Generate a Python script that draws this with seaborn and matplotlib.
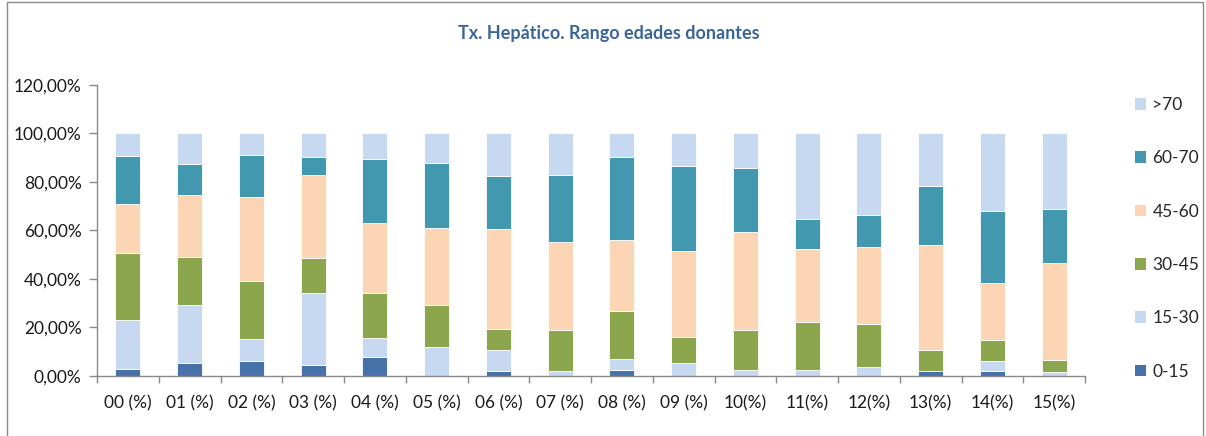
import pandas as pd
import matplotlib.pyplot as plt
import seaborn as sns
from matplotlib.patches import Patch, Rectangle
from matplotlib.ticker import FuncFormatter, FixedLocator

# Datos (porcentaje de donantes por rango de edad)
years = ['00 (%)', '01 (%)', '02 (%)', '03 (%)', '04 (%)', '05 (%)', '06 (%)', '07 (%)',
         '08 (%)', '09 (%)', '10(%)', '11(%)', '12(%)', '13(%)', '14(%)', '15(%)']
r_0_15 = [3.0, 5.2, 6.3, 4.7, 7.8, 0.0, 2.1, 0.0, 2.3, 0.0, 0.0, 0.0, 0.0, 2.1, 2.1, 0.0]
r_15_30 = [20.1, 23.9, 8.8, 29.4, 7.9, 12.1, 8.6, 2.1, 4.8, 5.4, 2.5, 2.6, 3.8, 0.0, 4.2, 1.8]
r_30_45 = [27.7, 19.9, 23.9, 14.7, 18.4, 17.0, 8.7, 16.9, 19.5, 10.8, 16.5, 19.8, 17.6, 8.8, 8.5, 4.9]
r_45_60 = [20.1, 25.5, 34.9, 34.0, 28.9, 31.9, 41.3, 36.4, 29.6, 35.2, 40.5, 30.1, 31.6, 43.2, 23.5, 39.7]
r_60_70 = [19.8, 12.7, 17.3, 7.4, 26.4, 26.8, 21.7, 27.4, 34.0, 35.1, 26.2, 12.3, 13.5, 24.2, 29.8, 22.4]
r_70 = [9.3, 12.8, 8.8, 9.8, 10.6, 12.2, 17.6, 17.2, 9.8, 13.5, 14.3, 35.2, 33.5, 21.7, 31.9, 31.2]

# orden de la leyenda (de arriba a abajo); histplot apila el ultimo nivel abajo
ranges = ['>70', '60-70', '45-60', '30-45', '15-30', '0-15']
series = [r_70, r_60_70, r_45_60, r_30_45, r_15_30, r_0_15]
colors = {'>70': '#C6D9F1', '60-70': '#4298AF', '45-60': '#FCD5B5',
          '30-45': '#8BA64C', '15-30': '#C6D9F1', '0-15': '#4671A9'}

rows = []
for rng, vals in zip(ranges, series):
    for yr, v in zip(years, vals):
        rows.append({'year': yr, 'rango': rng, 'pct': v})
df = pd.DataFrame(rows)

sns.set_theme(style='white')
plt.rcParams['font.family'] = ['Lato', 'DejaVu Sans']

fig = plt.figure(figsize=(12.06, 4.36), dpi=100)
ax = fig.add_axes([97 / 1206, 60 / 436, 988 / 1206, 291.2 / 436])

sns.histplot(data=df, x='year', hue='rango', weights='pct', hue_order=ranges,
             multiple='stack', discrete=True, shrink=0.405, palette=colors,
             alpha=1, edgecolor='white', linewidth=0.6, legend=False, ax=ax)

ax.set_xlim(-0.5, len(years) - 0.5)
ax.set_ylim(0, 120)
ax.set_xlabel('')
ax.set_ylabel('')
ax.set_yticks([0, 20, 40, 60, 80, 100, 120])
ax.yaxis.set_major_formatter(FuncFormatter(lambda v, p: f'{v:.2f}%'.replace('.', ',')))
ax.set_xticks(range(len(years)))
ax.set_xticklabels(years)
ax.xaxis.set_minor_locator(FixedLocator([i - 0.5 for i in range(len(years) + 1)]))

ax.tick_params(axis='x', which='major', length=0, pad=14, labelsize=12.5, labelcolor='#1a1a1a')
ax.tick_params(axis='x', which='minor', length=5, width=1, color='#8a8a8a', direction='out', bottom=True)
ax.tick_params(axis='y', which='major', length=6, width=1, color='#8a8a8a', direction='out', left=True,
               pad=5, labelsize=12.5, labelcolor='#1a1a1a')
sns.despine(ax=ax, top=True, right=True)
for side in ['left', 'bottom']:
    ax.spines[side].set_color('#8a8a8a')
    ax.spines[side].set_linewidth(1)

fig.text(609 / 1206, 1 - 34 / 436, 'Tx. Hepático. Rango edades donantes', ha='center', va='center',
         fontsize=13, fontweight='bold', color='#3A6599')

handles = [Patch(facecolor=colors[r], edgecolor='none', label=r) for r in ranges]
fig.legend(handles=handles, loc='upper left', bbox_to_anchor=(1128 / 1206, 1 - 90 / 436),
           frameon=False, fontsize=12.5, handlelength=0.65, handleheight=0.65,
           handletextpad=0.35, labelspacing=2.15, borderaxespad=0)

# marco del grafico (cortado por abajo como en el original)
fig.patches.append(Rectangle((7 / 1206, -10 / 436), 1196 / 1206, 444 / 436, transform=fig.transFigure,
                             fill=False, edgecolor='#8a8a8a', linewidth=1))

fig.savefig('out.png', dpi=100)
plt.close('all')
